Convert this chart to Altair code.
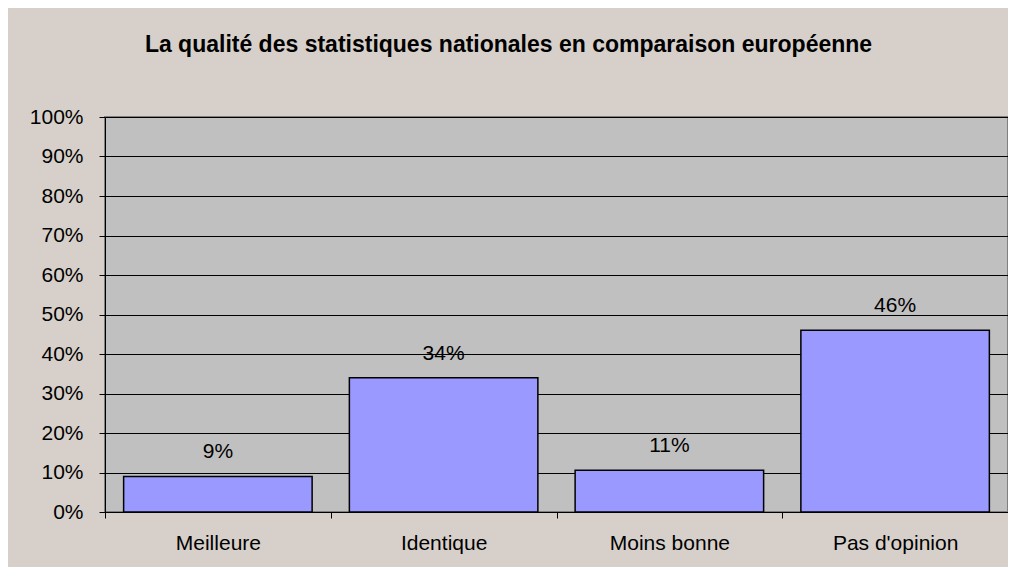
import altair as alt
import pandas as pd

categories = ["Meilleure", "Identique", "Moins bonne", "Pas d'opinion"]
values = [0.09, 0.34, 0.106, 0.46]
y_ticks = [0, 0.1, 0.2, 0.3, 0.4, 0.5, 0.6, 0.7, 0.8, 0.9, 1.0]
title_text = "La qualité des statistiques nationales en comparaison européenne"

df = pd.DataFrame({"cat": categories, "val": values})

x_enc = alt.X("cat:N", sort=categories, title=None,
              scale=alt.Scale(paddingInner=0, paddingOuter=0),
              axis=alt.Axis(labelAngle=0, labelFontSize=21, labelColor="black",
                            labelFont="Liberation Sans", labelPadding=14,
                            tickBand="extent", tickColor="black", tickSize=6,
                            domainColor="black", domainWidth=1, grid=False))
y_enc = alt.Y("val:Q", title=None,
              scale=alt.Scale(domain=[0, 1]),
              axis=alt.Axis(values=y_ticks, tickCount=20, format=".0%", labelFontSize=21,
                            labelColor="black", labelFont="Liberation Sans",
                            labelPadding=16, labelOverlap=False,
                            tickColor="black", tickSize=6,
                            domainColor="black", domainWidth=1,
                            grid=True, gridColor="black", gridWidth=1))

bars = alt.Chart(df).mark_bar(color="#9999FF", stroke="black", strokeWidth=1.5,
                              width=alt.RelativeBandSize(0.835)).encode(
    x=x_enc, y=y_enc)

labels = alt.Chart(df).mark_text(dy=-14, fontSize=21, font="Liberation Sans",
                                 color="black", baseline="bottom").encode(
    x=x_enc,
    y=y_enc,
    text=alt.Text("val:Q", format=".0%"))

chart = alt.layer(bars, labels).properties(
    width=903, height=395,
    autosize=alt.AutoSizeParams(type="none"),
    padding={"left": 97, "top": 109, "right": 0, "bottom": 55},
    background="#D7D0CA",
    title=alt.TitleParams(title_text, font="Liberation Sans", fontSize=23,
                          fontWeight="bold", color="black", anchor="middle",
                          dx=-48, offset=49),
).configure_view(fill="#C0C0C0", stroke="#808080", strokeWidth=2)

chart.save("out.html", embed_options={"renderer": "svg", "actions": False})
